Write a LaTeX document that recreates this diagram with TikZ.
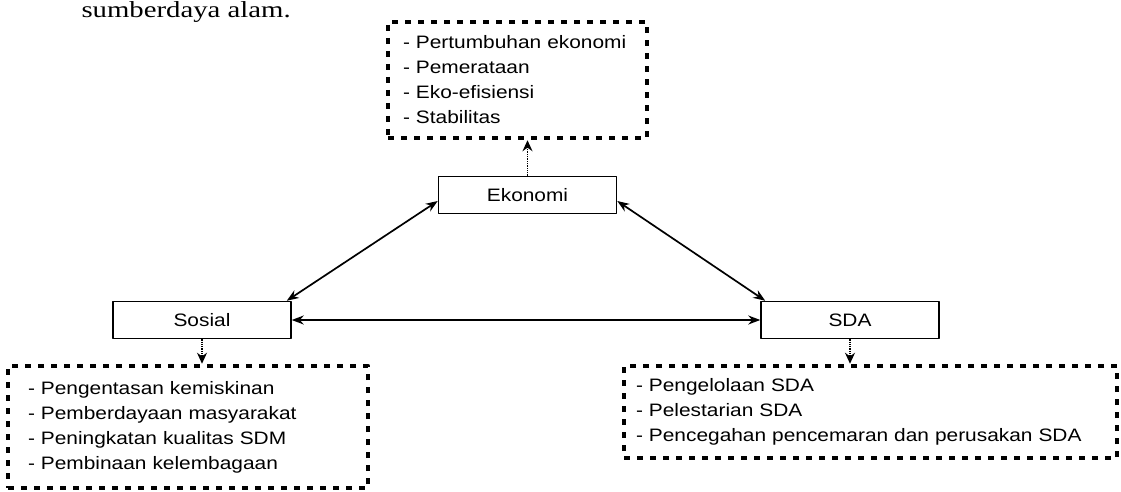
\documentclass[tikz,border=0pt]{standalone}
\usepackage{fontspec}
\setmainfont{Liberation Sans}[FakeStretch=1.16]
\newfontfamily\leadserif{Liberation Serif}[FakeStretch=1.25]
\usetikzlibrary{arrows.meta}
\tikzset{
  every picture/.style={line join=round, >=Stealth},
  pillar/.style={draw, line width=1.5pt, minimum width=178pt, minimum height=37pt, inner sep=0pt, font=\fontsize{18}{20}\selectfont},
  aimbox/.style={draw, line width=4.5pt, dash pattern=on 6pt off 7pt, align=left, inner ysep=0pt, font=\fontsize{18}{25}\selectfont},
  link/.style={{Stealth[length=12pt,width=9pt]}-{Stealth[length=12pt,width=9pt]}, line width=1.7pt},
  feed/.style={-{Stealth[length=11pt,width=10pt]}, densely dotted, line width=1.3pt},
}
\begin{document}
\begin{tikzpicture}[x=1pt,y=-1pt]
\useasboundingbox (0,0) rectangle (1121,492);
\node[anchor=base west,font=\leadserif\fontsize{23}{28}\selectfont] (lead) at (78,18) {sumberdaya alam.};
\node[pillar] (eko) at (527.5,195) {Ekonomi};
\node[pillar] (sos) at (202,320) {Sosial};
\node[pillar] (sda) at (850,320) {SDA};
\node[aimbox,text width=229pt,inner xsep=15pt,minimum height=116pt] (ekoaim) at (517.5,80)
  {- Pertumbuhan ekonomi\\- Pemerataan\\- Eko-efisiensi\\- Stabilitas};
\node[aimbox,text width=320pt,inner xsep=20pt,minimum height=122pt] (sosaim) at (188,427)
  {- Pengentasan kemiskinan\\- Pemberdayaan masyarakat\\- Peningkatan kualitas SDM\\- Pembinaan kelembagaan};
\node[aimbox,text width=469pt,inner xsep=12pt,minimum height=92pt] (sdaaim) at (870.5,412)
  {- Pengelolaan SDA\\- Pelestarian SDA\\- Pencegahan pencemaran dan perusakan SDA};
\draw[link] ([yshift=-6pt]eko.west) -- ([xshift=-5pt]sos.north east);
\draw[link] ([yshift=-6pt]eko.east) -- ([xshift=5pt]sda.north west);
\draw[link] (sos.east) -- (sda.west);
\draw[feed] (eko.north) -- (eko.north |- ekoaim.south);
\draw[feed] (sos.south) -- (sos.south |- sosaim.north);
\draw[feed] (sda.south) -- (sda.south |- sdaaim.north);
\end{tikzpicture}
\end{document}
